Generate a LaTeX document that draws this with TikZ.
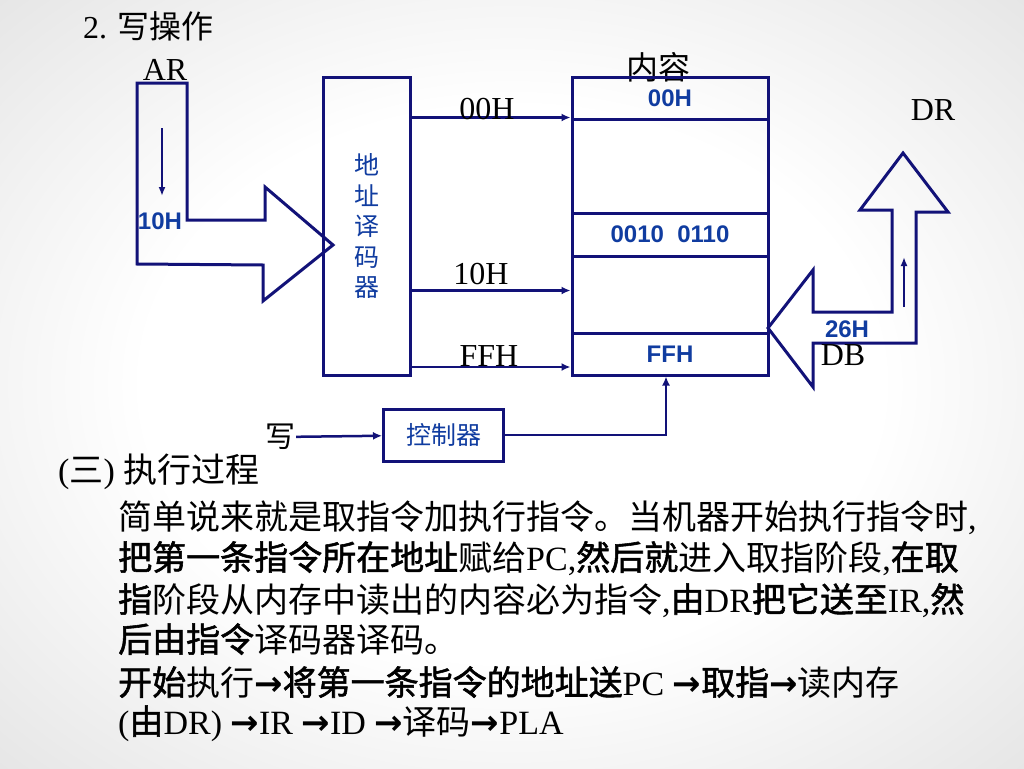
\documentclass[tikz,border=0pt]{standalone}
\usepackage{fontspec}
\setmainfont{Liberation Serif}
\newfontfamily\zhfont{Noto Sans CJK SC}[BoldFont={*},BoldFeatures={FakeBold=1.6}]
\newfontfamily\arfont{Liberation Sans}
\newfontfamily\dvfont{DejaVu Sans}
\usetikzlibrary{arrows.meta}
\definecolor{navy}{RGB}{18,18,120}
\definecolor{labelblue}{RGB}{16,60,160}
\pgfdeclareradialshading{slidebg}{\pgfpoint{0bp}{0bp}}{color(0bp)=(white); color(18bp)=(white); color(50bp)=(black!18)}
\newcommand\zr[1]{{\zhfont #1}}
\newcommand\zb[1]{{\zhfont\bfseries #1}}
\newcommand\ra{{\dvfont\bfseries →}}

\begin{document}
\begin{tikzpicture}[x=1pt,y=-1pt,
		box/.style={draw=navy,line width=3pt,inner sep=0pt},
		arr/.style={draw=navy,line width=2.5pt,-{Latex[length=9pt,width=8pt]}},
		hollow/.style={draw=navy,line width=3pt,line join=miter},
		lbl/.style={font=\fontsize{32}{38}\selectfont},
		hexv/.style={text=labelblue,font=\arfont\bfseries\fontsize{24}{28}\selectfont},
		body/.style={anchor=base west,inner sep=0pt,font=\fontsize{34}{41}\selectfont}]
		\useasboundingbox (0,0) rectangle (1024,768);
		\shade[shading=slidebg] (0,0) rectangle (1024,768);
		
		% title
		\node[body,font=\fontsize{32}{38}\selectfont] (title) at (83,38) {2. \zr{写操作}};
		
		% address register and its hollow arrow
		\draw[hollow] (137,83) -- (187,83) -- (187,220) -- (265,220) -- (265,187) -- (333,245)
			-- (263,301) -- (263,265) -- (137,264) -- cycle;
		\draw[navy,line width=2pt,-{Latex[length=9pt,width=7pt]}] (162,128) -- (162,196);
		\node[lbl,anchor=base] (ar) at (165,80) {AR};
		\node[hexv] (arval) at (160,221) {10H};
		
		% decoder
		\node[box,minimum width=87pt,minimum height=298pt,align=center,text=labelblue,
			font=\zhfont\fontsize{25}{30.5}\selectfont] (dec) at (366.5,226) {地\\址\\译\\码\\器};
		
		% memory
		\node[lbl,anchor=base,font=\zhfont\fontsize{32}{38}\selectfont] (cont) at (658,79) {内容};
		\node[box,minimum width=196pt,minimum height=42pt] (c1) at (670,98) {};
		\node[box,minimum width=196pt,minimum height=94pt] (c2) at (670,166) {};
		\node[box,minimum width=196pt,minimum height=43pt] (c3) at (670,234.5) {};
		\node[box,minimum width=196pt,minimum height=77pt] (c4) at (670,294.5) {};
		\node[box,minimum width=196pt,minimum height=42pt] (c5) at (670,354) {};
		\node[hexv] (v1) at (c1) {00H};
		\node[hexv] (v3) at (c3) {0010\ \ 0110};
		\node[hexv] (v5) at (c5) {FFH};
		
		% decoder outputs
		\coordinate (in10) at ([yshift=4pt]c4.west);
		\coordinate (inff) at ([yshift=-13pt]c5.west);
		\draw[arr] (dec.east |- c2.north) -- (c2.north west);
		\draw[arr] (dec.east |- in10) -- (in10);
		\draw[arr] (dec.east |- inff) -- (inff);
		\node[lbl,anchor=base] (a00) at (487,119) {00H};
		\node[lbl,anchor=base] (a10) at (481,284) {10H};
		\node[lbl,anchor=base] (aff) at (489,366) {FFH};
		
		% data bus to DR
		\draw[hollow] (768,328) -- (813,270) -- (813,312) -- (892,312) -- (892,210) -- (860,210)
			-- (903,153) -- (948,212) -- (916,212) -- (916,343) -- (813,343) -- (813,387) -- cycle;
		\draw[navy,line width=2pt,-{Latex[length=9pt,width=7pt]}] (904,307) -- (904,257);
		\node[hexv] (dbval) at (847,329) {26H};
		\node[lbl,anchor=base] (db) at (843,365) {DB};
		\node[lbl,anchor=base] (dr) at (933,120) {DR};
		
		% write control
		\node[lbl,font=\zhfont\fontsize{30}{36}\selectfont,inner sep=1pt] (wr) at (280,437) {写};
		\coordinate (memin) at ([xshift=-4pt]c5.south);
		\node[box,minimum width=120pt,minimum height=52pt,text=labelblue,
			font=\zhfont\fontsize{25}{30}\selectfont] (ctl) at (443.5,435) {控制器};
		\draw[arr] (wr) -- (ctl);
		\draw[arr] (ctl.east) -| (memin);
		
		% text below
		\node[body] (head) at (58,482) {(\zr{三}) \zr{执行过程}};
		\node[body] (t1) at (118,529) {\zr{简单说来就是取指令加执行指令。当机器开始执行指令时},};
		\node[body] (t2) at (118,570) {\zb{把第一条指令所在地址}\zr{赋给}PC,\zb{然后就}\zr{进入取指阶段},\zb{在取}};
		\node[body] (t3) at (118,612) {\zb{指}\zr{阶段从内存中读出的内容必为指令},\zb{由}DR\zb{把它送至}IR,\zb{然}};
		\node[body] (t4) at (118,652) {\zb{后由指令}\zr{译码器译码。}};
		\node[body] (t5) at (118,695) {\zb{开始}\zr{执行}\ra\zb{将第一条指令的地址送}PC \ra\zb{取指}\ra\zr{读内存}};
		\node[body] (t6) at (118,734) {(\zb{由}DR) \ra IR \ra ID \ra\zr{译码}\ra PLA};
	\end{tikzpicture}
\end{document}
